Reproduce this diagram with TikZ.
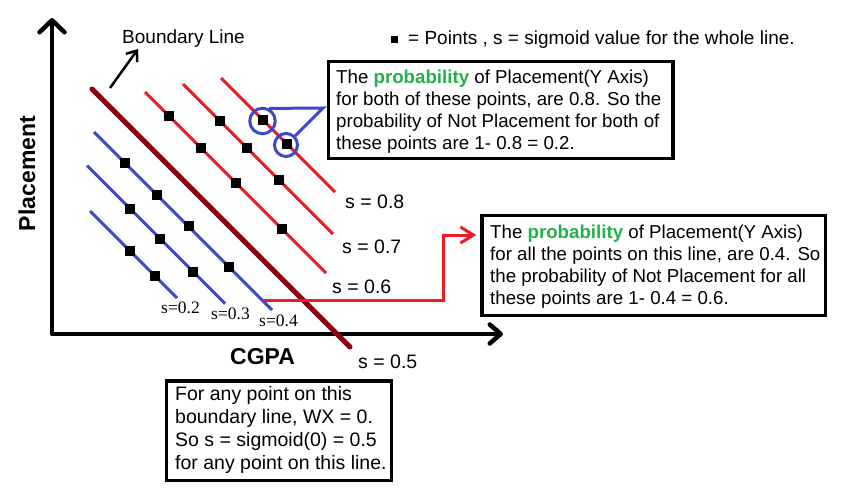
\documentclass[tikz,border=0pt]{standalone}
\usepackage{fontspec}
\setmainfont{Liberation Sans}
\newfontfamily\lblserif{Liberation Serif}
\usetikzlibrary{arrows.meta}
\definecolor{pred}{RGB}{237,28,36}
\definecolor{pblue}{RGB}{63,72,204}
\definecolor{pdark}{RGB}{136,0,21}
\definecolor{pgreen}{RGB}{34,177,76}
\newcommand\probword{\textcolor{pgreen}{\bfseries probability}}
\begin{document}
\begin{tikzpicture}[x=1pt,y=-1pt,
  redline/.style={pred, line width=3pt},
  blueline/.style={pblue, line width=3pt},
  ptmark/.style={rectangle, fill=black, inner sep=0pt, minimum size=10pt},
  txtbox/.style={rectangle, draw=black, line width=3.5pt, inner sep=0pt},
  boxtext/.style={anchor=north west, align=left, inner sep=0pt, font=\fontsize{18.7}{22}\selectfont},
  lbl/.style={anchor=base west, inner sep=0pt, font=\fontsize{19.5}{23}\selectfont},
  slbl/.style={anchor=base west, inner sep=0pt, font=\lblserif\fontsize{17.5}{19}\selectfont},
  axlbl/.style={inner sep=0pt, font=\bfseries\fontsize{23}{26}\selectfont},
  ring/.style={circle, draw=pblue, line width=3pt, inner sep=0pt}
]
\useasboundingbox (0,0) rectangle (849,496);
\fill[white] (0,0) rectangle (849,496);

% axes
\coordinate (ytop) at (52,18);
\coordinate (orig) at (52,334);
\coordinate (xend) at (503,334);
\draw[line width=4.5pt, line join=round,
  {Straight Barb[length=12pt,width=25pt,line cap=round,line join=round]}-{Straight Barb[length=11pt,width=19pt,line cap=round,line join=round]}]
  (ytop) -- (orig) -- (xend);
\node[axlbl, rotate=90, anchor=base] (ylab) at (35,173.5) {Placement};
\node[axlbl, anchor=base west] (xlab) at (230,364) {CGPA};

% boundary line label
\node[lbl, font=\fontsize{19}{23}\selectfont] (blab) at (122,43) {Boundary Line};
\coordinate (barrs) at (110,88);
\coordinate (barre) at (138,49);
\draw[line width=2.5pt, -{Straight Barb[length=9pt,width=14pt]}] (barrs) -- (barre);

% legend
\node[rectangle, fill=black, inner sep=0pt, minimum width=7pt, minimum height=6.5pt] (legsq) at (394,39.5) {};
\node[lbl, font=\fontsize{19}{23}\selectfont] (legtxt) at (408,44) {= Points , s = sigmoid value for the whole line.};

% boundary line
\draw[pdark, line width=5pt, line cap=round] (92,89) -- (350,347);

% red lines
\draw[redline] (145,92) -- (326,273);
\draw[redline] (183,84) -- (333,234);
\draw[redline] (221,78) -- (335,192);

% blue lines
\draw[blueline] (94,132) -- (272,310);
\draw[blueline] (87,165.5) -- (225,303.5);
\draw[blueline] (90,211) -- (177,298);

% points s=0.6
\node[ptmark] (r61) at (169,116) {};
\node[ptmark] (r62) at (201,148) {};
\node[ptmark] (r63) at (236,183) {};
\node[ptmark] (r64) at (282,229) {};
% s=0.7
\node[ptmark] (r71) at (220,121) {};
\node[ptmark] (r72) at (247,148) {};
\node[ptmark] (r73) at (279,180) {};
% s=0.8
\node[ptmark] (r81) at (263,120) {};
\node[ptmark] (r82) at (287,144) {};
% s=0.4
\node[ptmark] (b41) at (125,163) {};
\node[ptmark] (b42) at (157,195) {};
\node[ptmark] (b43) at (189,226) {};
\node[ptmark] (b44) at (229,266.5) {};
% s=0.3
\node[ptmark] (b31) at (130,208.5) {};
\node[ptmark] (b32) at (160,238.5) {};
\node[ptmark] (b33) at (193,271.5) {};
% s=0.2
\node[ptmark] (b21) at (130,251) {};
\node[ptmark] (b22) at (155,276) {};

% line labels
\node[lbl] (s08) at (345,208) {s = 0.8};
\node[lbl] (s07) at (342,253) {s = 0.7};
\node[lbl] (s06) at (332,293) {s = 0.6};
\node[lbl] (s05) at (358,368) {s = 0.5};
\node[slbl] (s02) at (161,313) {s=0.2};
\node[slbl] (s03) at (211,319) {s=0.3};
\node[slbl] (s04) at (259,326) {s=0.4};

% boxes
\node[txtbox, minimum width=344.3pt, minimum height=97.4pt] (tbox) at (500.85,110) {};
\node[boxtext] (ttxt) at (336,69.4) {The \probword{} of Placement(Y Axis)\\
for both of these points, are 0.8. So the\\
probability of Not Placement for both of\\
these points are 1- 0.8 = 0.2.};

\node[txtbox, minimum width=343.3pt, minimum height=100pt] (rbox) at (653.7,265.3) {};
\node[boxtext] (rtxt) at (490,224.4) {The \probword{} of Placement(Y Axis)\\
for all the points on this line, are 0.4. So\\
the probability of Not Placement for all\\
these points are 1- 0.4 = 0.6.};

\node[txtbox, minimum width=225pt, minimum height=99.3pt] (bbox) at (278.8,430.7) {};
\node[boxtext, font=\fontsize{19.5}{23}\selectfont] (btxt) at (175,385.8) {For any point on this\\
boundary line, WX = 0.\\
So s = sigmoid(0) = 0.5\\
for any point on this line.};

% blue callout
\node[ring, minimum size=25.5pt] (c1) at (262.5,121) {};
\node[ring, minimum size=23pt] (c2) at (286,145) {};
\coordinate (cv) at (323,108);
\draw[pblue, line width=3pt, line join=miter] (c1.62) -- (cv) -- (c2.45);

% red connector
\coordinate (c04) at (263,300);
\draw[pred, line width=3pt, -{Straight Barb[length=13pt,width=16pt]}]
  (c04) -- (443,300) |- ([xshift=-4pt,yshift=30.3pt]rbox.west);
\end{tikzpicture}
\end{document}
